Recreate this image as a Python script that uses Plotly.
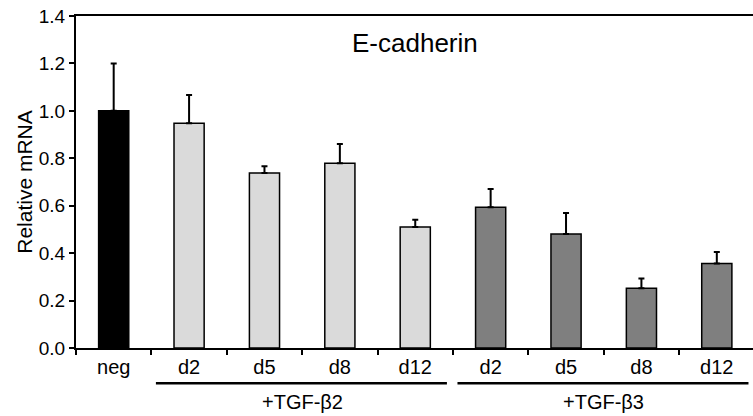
import plotly.graph_objects as go

# ---- data ----
labels = ["neg", "d2", "d5", "d8", "d12", "d2", "d5", "d8", "d12"]
groups = ["neg", "+TGF-β2", "+TGF-β2", "+TGF-β2", "+TGF-β2",
          "+TGF-β3", "+TGF-β3", "+TGF-β3", "+TGF-β3"]
values = [1.00, 0.948, 0.738, 0.779, 0.510, 0.593, 0.481, 0.252, 0.356]
errors = [0.20, 0.119, 0.028, 0.081, 0.031, 0.078, 0.088, 0.041, 0.049]
group_labels = ["+TGF-β2", "+TGF-β3"]
y_ticks = [0.0, 0.2, 0.4, 0.6, 0.8, 1.0, 1.2, 1.4]
title_text = "E-cadherin"
y_title = "Relative mRNA"

group_colors = {"neg": "#000000", "+TGF-β2": "#dadada", "+TGF-β3": "#7f7f7f"}
FONT = "Liberation Sans, Arial, sans-serif"

x = list(range(len(labels)))
colors = [group_colors[g] for g in groups]

fig = go.Figure()
fig.add_trace(go.Bar(
    x=x, y=values, width=0.4,
    marker=dict(color=colors, line=dict(color="black", width=1.5)),
    error_y=dict(type="data", symmetric=False, array=errors,
                 arrayminus=[0] * len(errors),
                 color="black", thickness=2, width=3),
    showlegend=False,
))

# group underlines and labels
for gl in group_labels:
    idx = [i for i, g in enumerate(groups) if g == gl]
    first, last = min(idx), max(idx)
    fig.add_shape(type="line", xref="x", yref="paper",
                  x0=first - 0.44, x1=last + 0.42, y0=-0.106, y1=-0.106,
                  line=dict(color="black", width=2.5))
    fig.add_annotation(x=(first + last) / 2, y=-0.162, xref="x", yref="paper",
                       text=gl, showarrow=False,
                       font=dict(size=20, color="black", family=FONT),
                       yanchor="middle", xanchor="center")

fig.add_annotation(x=0.5, y=0.918, xref="paper", yref="paper",
                   text=title_text, showarrow=False,
                   font=dict(size=26, color="black", family=FONT),
                   xanchor="center", yanchor="middle")

fig.update_xaxes(
    range=[-0.5, 8.48],
    tickvals=x, ticktext=labels, ticks="",
    tickfont=dict(size=20, color="black", family=FONT),
    showline=True, linecolor="black", linewidth=2, mirror=True,
    showgrid=False, zeroline=False,
    minor=dict(tickvals=[i + 0.5 for i in x[:-1]] + [-0.5], ticks="outside",
               ticklen=5, tickwidth=1.5, tickcolor="black", showgrid=False),
)
fig.update_yaxes(
    range=[0, 1.4], tickvals=y_ticks, tickformat=".1f",
    ticks="outside", ticklen=5, tickwidth=1.5, tickcolor="black",
    tickfont=dict(size=19, color="black", family=FONT),
    showline=True, linecolor="black", linewidth=2,
    showgrid=False, zeroline=False,
    title=dict(text=y_title, font=dict(size=21, color="black", family=FONT),
               standoff=0),
)

fig.update_layout(
    width=753, height=416,
    margin=dict(l=76, r=0, t=16, b=68),
    plot_bgcolor="white", paper_bgcolor="white",
    font=dict(family=FONT, color="black"),
    bargap=0.6,
)

fig.write_html("out.html", config={"displayModeBar": False},
               post_script="document.body.style.margin='0';")
